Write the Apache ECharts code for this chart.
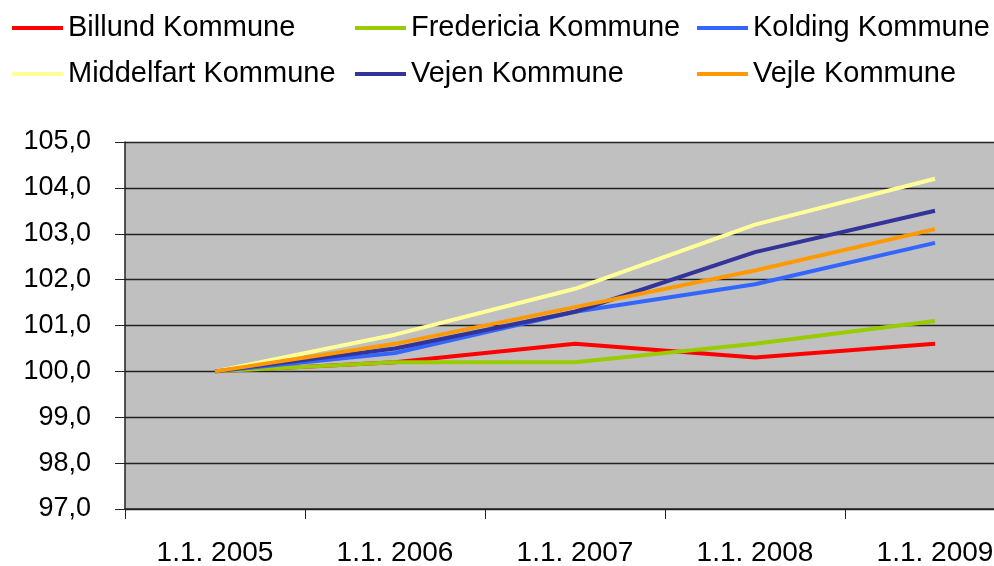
<!DOCTYPE html>
<html>
<head>
<meta charset="utf-8">
<script src="https://cdn.jsdelivr.net/npm/echarts@6/dist/echarts.min.js"></script>
<style>
  html, body { margin: 0; padding: 0; background: #fff; }
  #chart { width: 994px; height: 566px; }
</style>
</head>
<body>
<div id="chart"></div>
<script>
var years = ['1.1. 2005', '1.1. 2006', '1.1. 2007', '1.1. 2008', '1.1. 2009'];

var billund    = [100.0, 100.2, 100.6, 100.3, 100.6];
var fredericia = [100.0, 100.2, 100.2, 100.6, 101.1];
var kolding    = [100.0, 100.4, 101.3, 101.9, 102.8];
var middelfart = [100.0, 100.8, 101.8, 103.2, 104.2];
var vejen      = [100.0, 100.5, 101.3, 102.6, 103.5];
var vejle      = [100.0, 100.6, 101.4, 102.2, 103.1];

var names  = ['Billund Kommune', 'Fredericia Kommune', 'Kolding Kommune',
              'Middelfart Kommune', 'Vejen Kommune', 'Vejle Kommune'];
var values = [billund, fredericia, kolding, middelfart, vejen, vejle];
var colors = ['#ff0000', '#99cc00', '#3366ff', '#ffff99', '#333399', '#ff9900'];

var fontFam = '"Liberation Sans", Arial, sans-serif';

var chart = echarts.init(document.getElementById('chart'));

var series = [];
for (var i = 0; i < names.length; i++) {
  series.push({
    name: names[i],
    type: 'line',
    data: values[i],
    symbol: 'none',
    color: colors[i],
    lineStyle: { width: 4, color: colors[i] },
    animation: false
  });
}

// one legend per column, two rows each
function legendCol(left, items) {
  return {
    data: items,
    orient: 'vertical',
    left: left,
    top: 8,
    icon: 'rect',
    itemWidth: 51,
    itemHeight: 4,
    itemGap: 16,
    textStyle: { fontFamily: fontFam, fontSize: 29, color: '#000', lineHeight: 30 }
  };
}

chart.setOption({
  backgroundColor: '#fff',
  legend: [
    legendCol(7, ['Billund Kommune', 'Middelfart Kommune']),
    legendCol(350, ['Fredericia Kommune', 'Vejen Kommune']),
    legendCol(692, ['Kolding Kommune', 'Vejle Kommune'])
  ],
  grid: {
    left: 125, top: 142, width: 900, bottom: 57,
    outerBoundsMode: 'none',
    show: true, backgroundColor: '#c0c0c0', borderWidth: 0
  },
  xAxis: {
    type: 'category',
    data: years,
    boundaryGap: true,
    axisLine: { lineStyle: { color: '#222', width: 1.5 } },
    axisTick: { show: true, length: 10, lineStyle: { color: '#222' } },
    axisLabel: { fontFamily: fontFam, fontSize: 28, color: '#000', margin: 30 }
  },
  yAxis: {
    type: 'value',
    min: 97, max: 105, interval: 1,
    axisLine: { show: true, lineStyle: { color: '#222', width: 1.5 } },
    axisTick: { show: true, length: 10, lineStyle: { color: '#222' } },
    splitLine: { lineStyle: { color: '#222', width: 1.3 } },
    axisLabel: {
      fontFamily: fontFam, fontSize: 27, color: '#000', margin: 34,
      formatter: function (v) { return v.toFixed(1).replace('.', ','); }
    }
  },
  series: series
});
</script>
</body>
</html>
